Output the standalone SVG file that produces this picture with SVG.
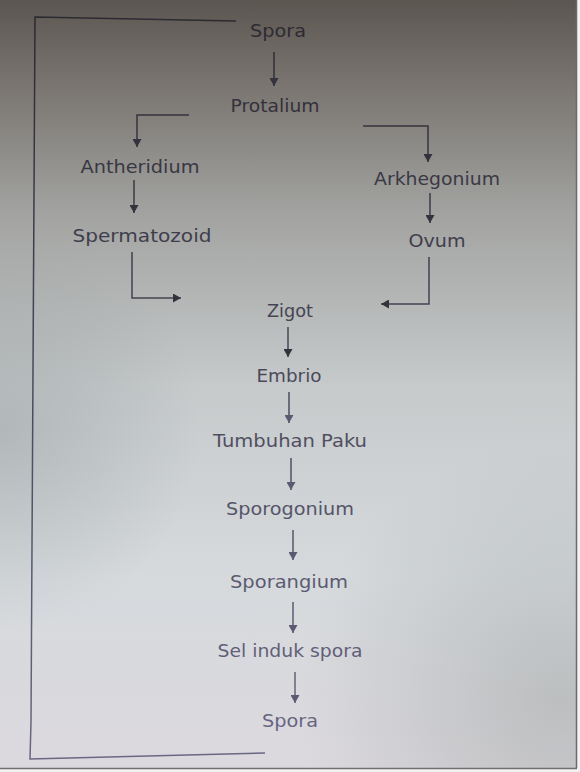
<svg xmlns="http://www.w3.org/2000/svg" width="580" height="772" viewBox="0 0 580 772">
<defs>
<linearGradient id="bg" x1="0" y1="0" x2="0" y2="772" gradientUnits="userSpaceOnUse">
<stop offset="0" stop-color="#5c5651"/>
<stop offset="0.1" stop-color="#77726d"/>
<stop offset="0.28" stop-color="#a3a4a2"/>
<stop offset="0.5" stop-color="#c6cacb"/>
<stop offset="0.75" stop-color="#d6dadd"/>
<stop offset="1" stop-color="#dcd9de"/>
</linearGradient>
<radialGradient id="shade" cx="560" cy="700" r="260" gradientUnits="userSpaceOnUse">
<stop offset="0" stop-color="#9ea3a2" stop-opacity="0.5"/>
<stop offset="1" stop-color="#9ea3a2" stop-opacity="0"/>
</radialGradient>
<radialGradient id="shadeL" cx="0" cy="430" r="200" gradientUnits="userSpaceOnUse">
<stop offset="0" stop-color="#8f9598" stop-opacity="0.4"/>
<stop offset="1" stop-color="#8f9598" stop-opacity="0"/>
</radialGradient>
<linearGradient id="ink" x1="0" y1="0" x2="0" y2="772" gradientUnits="userSpaceOnUse">
<stop offset="0" stop-color="#2a2830"/>
<stop offset="0.4" stop-color="#444452"/>
<stop offset="1" stop-color="#6a6884"/>
</linearGradient>
<marker id="ad" viewBox="0 0 8 9" refX="8" refY="4.5" markerWidth="8" markerHeight="9" markerUnits="userSpaceOnUse" orient="auto">
<path d="M0,0 L8,4.5 L0,9 z" fill="#34323c"/>
</marker>
<marker id="al" viewBox="0 0 8 9" refX="8" refY="4.5" markerWidth="8" markerHeight="9" markerUnits="userSpaceOnUse" orient="auto">
<path d="M0,0 L8,4.5 L0,9 z" fill="#5c5a72"/>
</marker>
</defs>
<style>
text { font-family: "DejaVu Sans", "Liberation Sans", sans-serif; font-size: 18px; fill: url(#ink); text-anchor: middle; }
.c { fill: none; stroke: url(#ink); stroke-width: 1.5; }
.d { marker-end: url(#ad); }
.l { marker-end: url(#al); }
</style>
<rect width="580" height="772" fill="url(#bg)"/>
<rect width="580" height="772" fill="url(#shade)"/>
<rect width="580" height="772" fill="url(#shadeL)"/>
<rect x="576" y="0" width="4" height="772" fill="#f2f2f2"/>
<line x1="576.5" y1="0" x2="576.5" y2="768" stroke="#6a6c6c" stroke-width="1.5"/>
<rect x="0" y="768" width="580" height="4" fill="#f2f2f2"/>
<line x1="0" y1="768.5" x2="577" y2="768.5" stroke="#707272" stroke-width="1.5"/>

<g id="connectors">
<path class="c" d="M265,753 L30,759 L31,722 L35,17 L236,21"/>
<path class="c d" d="M274,52 V86"/>
<path class="c d" d="M189,115 H137 V147"/>
<path class="c d" d="M363,126 H428 V162"/>
<path class="c d" d="M134,180 V213"/>
<path class="c d" d="M430,193 V223"/>
<path class="c d" d="M132,252 V298 H181"/>
<path class="c d" d="M429,257 V304 H381"/>
<path class="c d" d="M288,327 V357"/>
<path class="c l" d="M289,392 V423"/>
<path class="c l" d="M291,458 V490"/>
<path class="c l" d="M293,530 V560"/>
<path class="c l" d="M293,602 V633"/>
<path class="c l" d="M295,672 V703"/>
</g>

<g id="spora-top"><text x="278" y="37" textLength="56" lengthAdjust="spacingAndGlyphs">Spora</text></g>
<g id="protalium"><text x="275" y="112" textLength="89" lengthAdjust="spacingAndGlyphs">Protalium</text></g>
<g id="antheridium"><text x="140" y="173" textLength="119" lengthAdjust="spacingAndGlyphs">Antheridium</text></g>
<g id="spermatozoid"><text x="142" y="242" textLength="139" lengthAdjust="spacingAndGlyphs">Spermatozoid</text></g>
<g id="arkhegonium"><text x="437" y="185" textLength="126" lengthAdjust="spacingAndGlyphs">Arkhegonium</text></g>
<g id="ovum"><text x="437" y="247" textLength="57" lengthAdjust="spacingAndGlyphs">Ovum</text></g>
<g id="zigot"><text x="290" y="317" textLength="46" lengthAdjust="spacingAndGlyphs">Zigot</text></g>
<g id="embrio"><text x="289" y="382" textLength="65" lengthAdjust="spacingAndGlyphs">Embrio</text></g>
<g id="tumbuhan-paku"><text x="290" y="447" textLength="154" lengthAdjust="spacingAndGlyphs">Tumbuhan Paku</text></g>
<g id="sporogonium"><text x="290" y="515" textLength="128" lengthAdjust="spacingAndGlyphs">Sporogonium</text></g>
<g id="sporangium"><text x="289" y="588" textLength="118" lengthAdjust="spacingAndGlyphs">Sporangium</text></g>
<g id="sel-induk-spora"><text x="290" y="657" textLength="145" lengthAdjust="spacingAndGlyphs">Sel induk spora</text></g>
<g id="spora-bottom"><text x="290" y="727" textLength="56" lengthAdjust="spacingAndGlyphs">Spora</text></g>
</svg>
